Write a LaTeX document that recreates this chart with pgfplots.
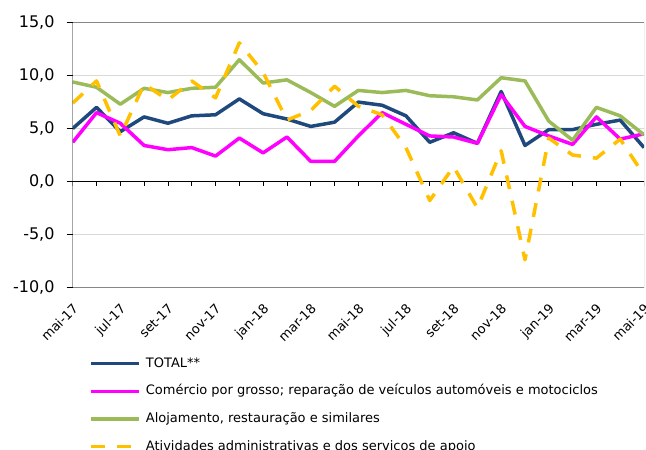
\documentclass[border=0pt]{standalone}
\usepackage{fontspec}
\setmainfont{DejaVu Sans}
\usepackage{pgfplots}
\pgfplotsset{compat=1.18}

\definecolor{cTotal}{HTML}{1F497D}
\definecolor{cCom}{HTML}{FF00FF}
\definecolor{cAloj}{HTML}{9BBB59}
\definecolor{cAtiv}{HTML}{FFC000}
\definecolor{gridgray}{HTML}{D9D9D9}
\definecolor{framegray}{HTML}{868686}

% index 0 = mai-17 ... 24 = mai-19
\pgfplotstableread{
i  total com  aloj ativ
0  5.0   3.7  9.4  7.4
1  7.0   6.5  8.9  9.5
2  4.7   5.5  7.3  4.3
3  6.1   3.4  8.8  9.2
4  5.5   3.0  8.4  7.7
5  6.2   3.2  8.8  9.5
6  6.3   2.4  8.9  7.9
7  7.8   4.1  11.5 13.1
8  6.4   2.7  9.3  10.3
9  5.9   4.2  9.6  5.8
10 5.2   1.9  8.4  6.7
11 5.6   1.9  7.1  9.0
12 7.5   4.3  8.6  7.1
13 7.2   6.5  8.4  6.3
14 6.2   5.4  8.6  3.2
15 3.7   4.3  8.1  -1.8
16 4.6   4.2  8.0  1.4
17 3.6   3.6  7.7  -2.5
18 8.5   8.2  9.8  2.9
19 3.4   5.2  9.5  -7.4
20 4.9   4.3  5.7  4.1
21 4.9   3.5  3.9  2.5
22 5.4   6.1  7.0  2.2
23 5.8   4.0  6.2  4.0
24 3.2   4.5  4.4  0.6
}\dados

\begin{document}
\begin{tikzpicture}
\path[use as bounding box, clip] (-72.7pt,-162.7pt) rectangle (573.3pt,287.3pt);
\begin{axis}[
  at={(0pt,0pt)}, anchor=south west,
  scale only axis, width=571.3pt, height=264.6pt,
  xmin=0, xmax=24, ymin=-10, ymax=15,
  axis line style={draw=none},
  ytick={-10,-5,0,5,10,15},
  ymajorgrids, grid style={draw=gridgray, line width=0.8pt},
  tick pos=left, tick align=outside, major tick length=6pt,
  ytick style={draw=black, line width=0.8pt},
  xtick={0,2,...,24},
  xticklabels={mai-17,jul-17,set-17,nov-17,jan-18,mar-18,mai-18,jul-18,set-18,nov-18,jan-19,mar-19,mai-19},
  xtick style={draw=none},
  xticklabel style={rotate=45, anchor=north east, inner sep=0pt, font=\fontsize{13}{15}\selectfont, xshift=-7pt, yshift=-6pt},
  yticklabel style={font=\fontsize{16}{18}\selectfont, inner sep=0pt, xshift=-12pt,
    /pgf/number format/fixed, /pgf/number format/fixed zerofill,
    /pgf/number format/precision=1, /pgf/number format/use comma,
    /pgf/number format/assume math mode=true},
  legend style={at={(rel axis cs:0,0)}, anchor=north west, xshift=16.5pt, yshift=-70pt,
    draw=none, fill=none, inner sep=0pt, font=\fontsize{13}{15}\selectfont,
    row sep=15.5pt, column sep=5pt,
    nodes={inner sep=0pt, text height=9.5pt, text depth=2.7pt}},
  legend cell align=left,
  legend image code/.code={\draw[#1] (0pt,0pt) -- (48pt,0pt);},
  every axis plot/.append style={line width=3.5pt, line join=round},
]
\draw[black, line width=0.8pt] (axis cs:0,0) -- (axis cs:24,0);
\pgfplotsinvokeforeach{0,...,24}{\draw[black, line width=0.8pt] (axis cs:#1,0) -- ++(0pt,-4.5pt);}
\addplot[cTotal] table[x=i, y=total] {\dados};
\addlegendentry{TOTAL**}
\addplot[cCom] table[x=i, y=com] {\dados};
\addlegendentry{Comércio por grosso; reparação de veículos automóveis e motociclos}
\addplot[cAloj] table[x=i, y=aloj] {\dados};
\addlegendentry{Alojamento, restauração e similares}
\addplot[cAtiv, dash pattern=on 14pt off 12pt] table[x=i, y=ativ] {\dados};
\addlegendentry{Atividades administrativas e dos serviços de apoio}
\draw[framegray, line width=0.8pt] (rel axis cs:0,1) -- (rel axis cs:1,1) -- (rel axis cs:1,0) -- (rel axis cs:0,0);
\draw[black, line width=0.8pt] (rel axis cs:0,0) -- (rel axis cs:0,1);
\end{axis}
\end{tikzpicture}
\end{document}
